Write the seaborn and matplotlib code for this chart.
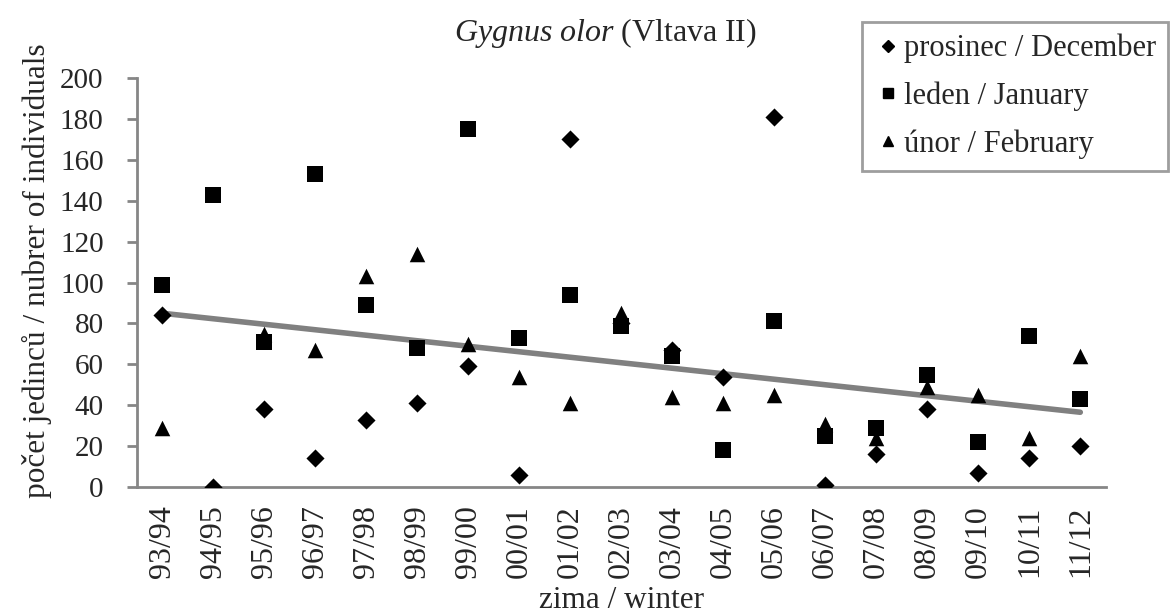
import numpy as np
import pandas as pd
import matplotlib
matplotlib.use("Agg")
import matplotlib.pyplot as plt
from matplotlib.lines import Line2D
import seaborn as sns

# zimy (sezony)
winters = ["93/94", "94/95", "95/96", "96/97", "97/98", "98/99", "99/00", "00/01",
           "01/02", "02/03", "03/04", "04/05", "05/06", "06/07", "07/08", "08/09",
           "09/10", "10/11", "11/12"]

# pocty jedincu
december = [84, 0, 38, 14, 33, 41, 59, 6, 170, 80, 67, 54, 181, 1, 16, 38, 7, 14, 20]
january = [99, 143, 71, 153, 89, 68, 175, 73, 94, 79, 64, 18, 81, 25, 29, 55, 22, 74, 43]
february = [29, np.nan, 75, 67, 103, 114, 70, 54, 41, 85, 44, 41, 45, 31, 24, 49, 45, 24, 64]

month_labels = ["prosinec / December", "leden / January", "únor / February"]
y_ticks = [0, 20, 40, 60, 80, 100, 120, 140, 160, 180, 200]


def main():
    rows = []
    for lab, vals in zip(month_labels, [december, january, february]):
        for i, v in enumerate(vals):
            rows.append({"idx": i, "winter": winters[i], "month": lab, "count": v})
    df = pd.DataFrame(rows)

    sns.set_style("white")
    plt.rcParams["font.family"] = ["Liberation Serif", "DejaVu Serif"]
    plt.rcParams["mathtext.fontset"] = "custom"
    plt.rcParams["mathtext.it"] = "Liberation Serif:italic"
    plt.rcParams["mathtext.rm"] = "Liberation Serif"

    axis_gray = "#868686"
    fig = plt.figure(figsize=(11.75, 6.15), dpi=100)
    ax = fig.add_axes([0.1166, 0.208, 0.8245, 0.665])

    # trend pres vsechny body
    sns.regplot(data=df.dropna(), x="idx", y="count", scatter=False, ci=None,
                truncate=True, color="#808080", line_kws={"lw": 4}, ax=ax)

    # kazdy mesic zvlast (jiny symbol a velikost)
    markers = ["D", "s", "^"]
    sizes = [85, 118, 125]
    for lab, m, sz in zip(month_labels, markers, sizes):
        sns.scatterplot(data=df[df["month"] == lab], x="idx", y="count", marker=m,
                        s=sz, color="black", linewidth=0, ax=ax, zorder=3)

    ax.set_xlim(-0.5, len(winters) - 0.5)
    ax.set_ylim(0, 200)
    ax.set_yticks(y_ticks)
    ax.set_xticks(range(len(winters)))
    ax.set_xticklabels(winters, rotation=90)
    ax.set_xticks(np.arange(-0.5, len(winters), 1.0), minor=True)
    ax.tick_params(axis="x", which="major", length=0, labelsize=23, pad=13)
    ax.tick_params(axis="x", which="minor", length=8, width=2, color=axis_gray, direction="out")
    ax.tick_params(axis="y", length=7, width=2, color=axis_gray, direction="out",
                   labelsize=21, pad=17, left=True)

    for side in ["top", "right"]:
        ax.spines[side].set_visible(False)
    for side in ["left", "bottom"]:
        ax.spines[side].set_color(axis_gray)
        ax.spines[side].set_linewidth(2)

    ax.set_xlabel("zima / winter", fontsize=22.5, labelpad=6)
    ax.set_ylabel("počet jedinců / nubrer of individuals", fontsize=22.5)
    ax.yaxis.set_label_coords(-0.088, 0.53)
    ax.set_title(r"$\it{Gygnus\ olor}$ (Vltava II)", fontsize=23, pad=27, x=0.483)

    handles = [Line2D([], [], linestyle="none", marker=m, color="black", markersize=ms)
               for m, ms in zip(markers, [6, 7, 7])]
    leg = ax.legend(handles, month_labels, loc="upper left", bbox_to_anchor=(0.734, 0.965),
                    bbox_transform=fig.transFigure, fontsize=22, frameon=True, fancybox=False,
                    edgecolor=axis_gray, handletextpad=0.05, handlelength=0.9,
                    labelspacing=0.6, borderpad=0.4, borderaxespad=0)
    leg.get_frame().set_linewidth(2)

    fig.savefig("out.png", dpi=100)
    plt.close(fig)


if __name__ == "__main__":
    main()
